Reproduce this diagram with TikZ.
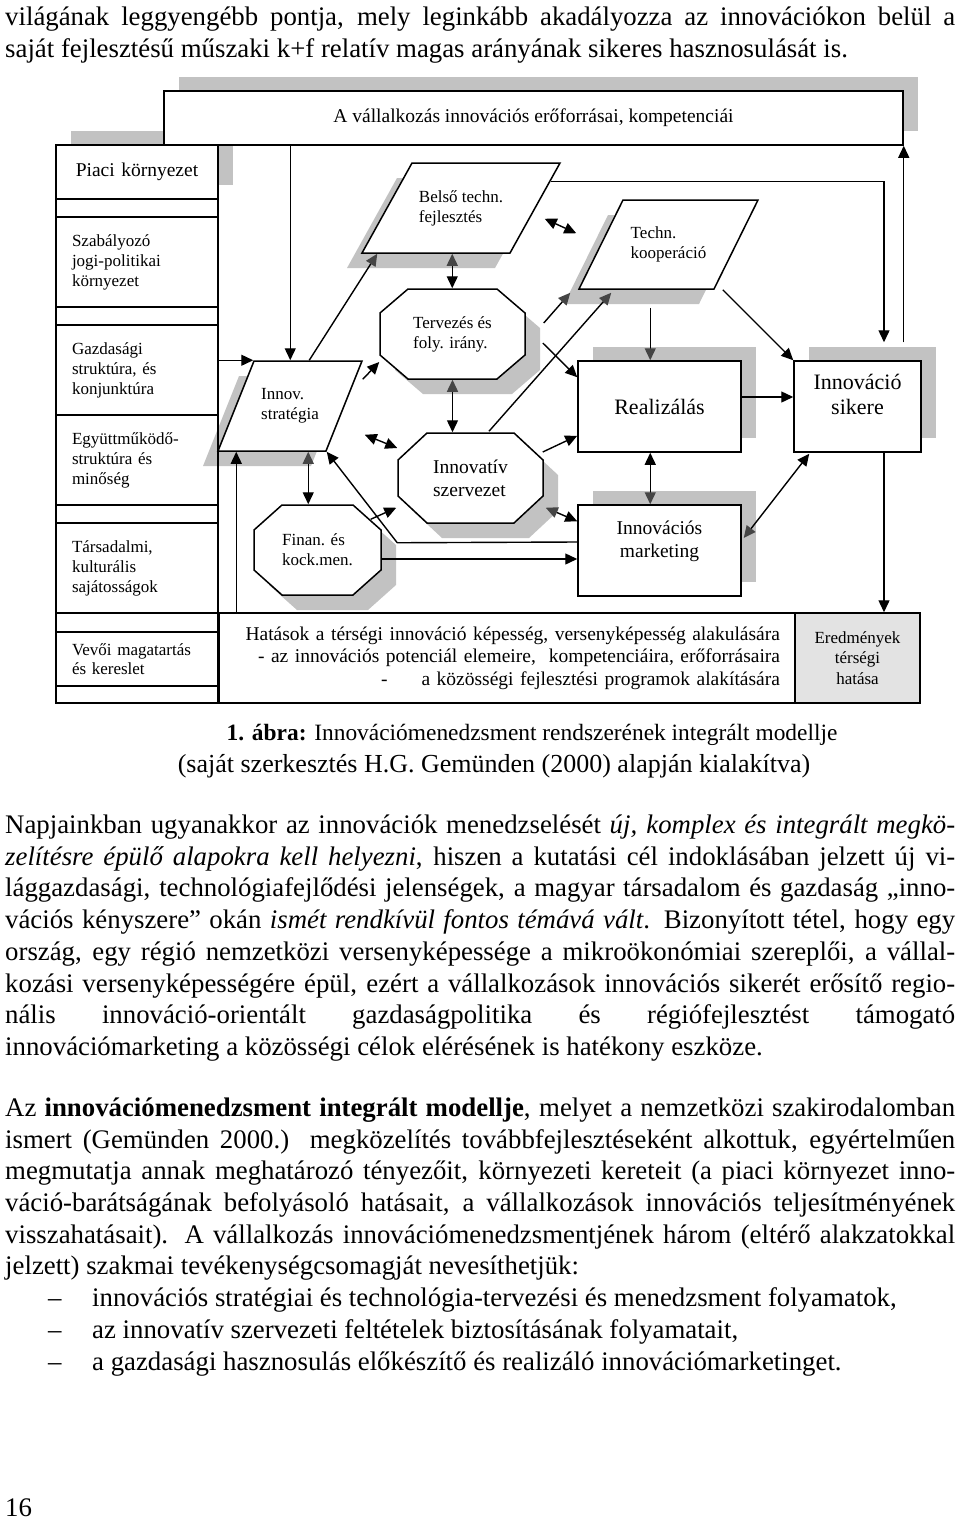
\documentclass[tikz,border=0pt]{standalone}
\usepackage{fontspec}
\setmainfont{Liberation Serif}
\usepackage{tikz}
\usetikzlibrary{arrows.meta, shadows, calc}

\definecolor{shade}{gray}{0.76}   % colour of the drop shadows
\definecolor{tipgray}{gray}{0.27} % arrow heads lying on a shadow
\definecolor{resgray}{gray}{0.89} % last box of the bottom row

\newcommand{\labfont}{\fontsize{17}{20}\selectfont}
\newcommand{\midfont}{\fontsize{19.5}{23}\selectfont}
\newcommand{\bigfont}{\fontsize{22}{25}\selectfont}
\newcommand{\bodyfont}{\fontsize{26.8}{32}\selectfont}
\newcommand{\capfont}{\fontsize{23.4}{32}\selectfont}

\makeatletter
\pgfkeys{/pgf/lean/.initial=40pt, /pgf/cutx/.initial=28pt, /pgf/cuty/.initial=24pt}
% parallelogram: the top edge is pushed right by /pgf/lean
\pgfdeclareshape{lean box}{
	\inheritsavedanchors[from=rectangle]
	\inheritanchorborder[from=rectangle]
	\inheritanchor[from=rectangle]{center}
	\inheritanchor[from=rectangle]{text}
	\inheritanchor[from=rectangle]{base}
	\inheritanchor[from=rectangle]{mid}
	\inheritanchor[from=rectangle]{north}
	\inheritanchor[from=rectangle]{south}
	\inheritanchor[from=rectangle]{east}
	\inheritanchor[from=rectangle]{west}
	\inheritanchor[from=rectangle]{north east}
	\inheritanchor[from=rectangle]{north west}
	\inheritanchor[from=rectangle]{south east}
	\inheritanchor[from=rectangle]{south west}
	\savedmacro\getlean{\pgfmathsetlength\pgf@xa{\pgfkeysvalueof{/pgf/lean}}\edef\leanval{\the\pgf@xa}\addtosavedmacro\leanval}
	\anchor{top left corner}{\getlean\northeast\pgf@ya=\pgf@y\southwest\advance\pgf@x by\leanval\relax\pgf@y=\pgf@ya}
	\anchor{top right corner}{\northeast}
	\anchor{bottom left corner}{\southwest}
	\anchor{bottom right corner}{\getlean\southwest\pgf@ya=\pgf@y\northeast\advance\pgf@x by-\leanval\relax\pgf@y=\pgf@ya}
	\backgroundpath{%
		\getlean
		\pgfmathsetlength\pgf@xc{\pgfkeysvalueof{/pgf/outer xsep}}%
		\pgfmathsetlength\pgf@yc{\pgfkeysvalueof{/pgf/outer ysep}}%
		\southwest\advance\pgf@x by\pgf@xc\advance\pgf@y by\pgf@yc
		\edef\pgf@lbx{\the\pgf@x}\edef\pgf@lby{\the\pgf@y}%
		\northeast\advance\pgf@x by-\pgf@xc\advance\pgf@y by-\pgf@yc
		\edef\pgf@lbX{\the\pgf@x}\edef\pgf@lbY{\the\pgf@y}%
		\pgfpathmoveto{\pgfpoint{\pgf@lbx}{\pgf@lby}}%
		\pgfpathlineto{\pgfpoint{\pgf@lbX-\leanval}{\pgf@lby}}%
		\pgfpathlineto{\pgfpoint{\pgf@lbX}{\pgf@lbY}}%
		\pgfpathlineto{\pgfpoint{\pgf@lbx+\leanval}{\pgf@lbY}}%
		\pgfpathclose
	}
}
% octagon: corners cut by /pgf/cutx and /pgf/cuty
\pgfdeclareshape{cut box}{
	\inheritsavedanchors[from=rectangle]
	\inheritanchorborder[from=rectangle]
	\inheritanchor[from=rectangle]{center}
	\inheritanchor[from=rectangle]{text}
	\inheritanchor[from=rectangle]{base}
	\inheritanchor[from=rectangle]{mid}
	\inheritanchor[from=rectangle]{north}
	\inheritanchor[from=rectangle]{south}
	\inheritanchor[from=rectangle]{east}
	\inheritanchor[from=rectangle]{west}
	\inheritanchor[from=rectangle]{north east}
	\inheritanchor[from=rectangle]{north west}
	\inheritanchor[from=rectangle]{south east}
	\inheritanchor[from=rectangle]{south west}
	\backgroundpath{%
		\pgfmathsetlength\pgf@xc{\pgfkeysvalueof{/pgf/outer xsep}}%
		\pgfmathsetlength\pgf@yc{\pgfkeysvalueof{/pgf/outer ysep}}%
		\southwest\advance\pgf@x by\pgf@xc\advance\pgf@y by\pgf@yc
		\edef\pgf@cbx{\the\pgf@x}\edef\pgf@cby{\the\pgf@y}%
		\northeast\advance\pgf@x by-\pgf@xc\advance\pgf@y by-\pgf@yc
		\edef\pgf@cbX{\the\pgf@x}\edef\pgf@cbY{\the\pgf@y}%
		\edef\pgf@cbu{\pgfkeysvalueof{/pgf/cutx}}\edef\pgf@cbv{\pgfkeysvalueof{/pgf/cuty}}%
		\pgfpathmoveto{\pgfpoint{\pgf@cbx+\pgf@cbu}{\pgf@cby}}%
		\pgfpathlineto{\pgfpoint{\pgf@cbX-\pgf@cbu}{\pgf@cby}}%
		\pgfpathlineto{\pgfpoint{\pgf@cbX}{\pgf@cby+\pgf@cbv}}%
		\pgfpathlineto{\pgfpoint{\pgf@cbX}{\pgf@cbY-\pgf@cbv}}%
		\pgfpathlineto{\pgfpoint{\pgf@cbX-\pgf@cbu}{\pgf@cbY}}%
		\pgfpathlineto{\pgfpoint{\pgf@cbx+\pgf@cbu}{\pgf@cbY}}%
		\pgfpathlineto{\pgfpoint{\pgf@cbx}{\pgf@cbY-\pgf@cbv}}%
		\pgfpathlineto{\pgfpoint{\pgf@cbx}{\pgf@cby+\pgf@cbv}}%
		\pgfpathclose
	}
}
\makeatother

\tikzset{
	>={Triangle[length=12pt,width=11pt]}, % filled arrow heads
	gt/.tip={Triangle[length=12pt,width=11pt,color=tipgray]}, % darker head where it sits on a shadow
	every node/.append style={inner sep=0pt},
	link/.style={line width=1.4pt}, % every connector
	rshadow/.style={drop shadow={shadow xshift=15pt, shadow yshift=14pt, fill=shade, opacity=1}}, % up and right
	pshadow/.style={drop shadow={shadow xshift=-15pt, shadow yshift=-15pt, fill=shade, opacity=1}}, % down and left
	oshadow/.style={drop shadow={shadow xshift=15pt, shadow yshift=-15pt, fill=shade, opacity=1}}, % down and right
	box/.style={draw, line width=1.5pt, fill=white, minimum width=163pt, minimum height=91pt, align=center},
	para/.style={shape=lean box, draw, line width=1.5pt, fill=white, minimum height=90pt, align=left, font=\labfont, pshadow},
	octa/.style={shape=cut box, draw, line width=1.5pt, fill=white, minimum width=145pt, minimum height=90pt, align=left, oshadow},
	cell/.style={draw, line width=1.5pt, minimum width=162pt, minimum height=90pt, text width=130pt, align=left, font=\labfont},
	txt/.style={anchor=base west, font=\bodyfont},
}

\begin{document}
\begin{tikzpicture}[x=1pt,y=-1pt]
	\useasboundingbox (0,0) rectangle (960,1521);
	% text above the figure
	\node (top1) at (5,25) [txt] {\makebox[950pt][s]{világának leggyengébb pontja, mely leginkább akadályozza az innovációkon belül a}};
	\node (top2) at (5,57) [txt] {saját fejlesztésű műszaki k+f relatív magas arányának sikeres hasznosulását is.};

	% the figure
	\node (piaci) at (137,172) [cell, fill=white, minimum height=54pt, text width=162pt, align=center, font=\midfont, rshadow] {Piaci környezet};
	\node (res) at (533.5,118) [box, minimum width=739pt, minimum height=54pt, font=\midfont, rshadow] {A vállalkozás innovációs erőforrásai, kompetenciái};

	\node (belso) at (461,208) [para, lean=50pt, minimum width=198pt] {Belső techn.\\fejlesztés};
	\node (tkoop) at (668.5,244.5) [para, lean=44pt, minimum width=179pt, minimum height=89pt] {Techn.\\kooperáció};
	\node (innovS) at (290,406) [para, lean=36pt, minimum width=144pt] {Innov.\\stratégia};

	\node (terv) at (452.5,334) [octa, cutx=28pt, cuty=24pt, font=\labfont] {Tervezés és\\foly. irány.};
	\node (innovSz) at (470.5,478) [octa, cutx=29pt, cuty=27pt, font=\midfont] {Innovatív\\szervezet};
	\node (finan) at (317.5,550) [octa, minimum width=127pt, cutx=28pt, cuty=25pt, font=\labfont] {Finan. és\\kock.men.};

	\node (real) at (659.5,406.5) [box, font=\bigfont, rshadow] {Realizálás};
	\node (imark) at (659.5,550.5) [box, font=\midfont, rshadow] {Innovációs\\marketing\\~};
	\node (siker) at (857.5,406.5) [box, minimum width=127pt, font=\bigfont, rshadow] {Innováció\\sikere\\~};

	% environment column
	\node (szab) at (137,262) [cell] {Szabályozó\\jogi-politikai\\környezet};
	\node (gazd) at (137,370) [cell] {Gazdasági\\struktúra, és\\konjunktúra};
	\node (egy) at (137,460) [cell] {Együttműködő-\\struktúra és\\minőség};
	\node (tars) at (137,568) [cell] {Társadalmi,\\kulturális\\sajátosságok};
	\node (vevo) at (137,659) [cell, minimum height=54pt, font=\fontsize{17}{19}\selectfont] {Vevői magatartás\\és kereslet};
	\node (col) at (137,424) [draw, line width=1.5pt, minimum width=162pt, minimum height=558pt] {};

	% bottom row
	\node (hatas) at (507,658) [box, minimum width=576pt, minimum height=90pt, text width=546pt, align=right, font=\fontsize{19.5}{22.5}\selectfont] {Hatások a térségi innováció képesség, versenyképesség alakulására\\- az innovációs potenciál elemeire,\ \ kompetenciáira, erőforrásaira\\-\hspace{34pt}a közösségi fejlesztési programok alakítására};
	\node (ered) at (857.5,658) [box, minimum width=125pt, minimum height=90pt, fill=resgray, font=\fontsize{17}{20.5}\selectfont] {Eredmények\\térségi\\hatása};

	% connectors
	\coordinate (s2) at ($(innovS.top left corner)+(37,0)$);
	\draw[link,->] (gazd.east |- innovS.top left corner) -- (innovS.top left corner);
	\draw[link,->] (res.south -| s2) -- (s2);
	\draw[link,-gt] ($(innovS.top left corner)+(56,0)$) -- ($(belso.bottom left corner)+(16,0)$);
	\draw[link,->] ($(innovS.top right corner)+(0,19)$) -- ($(terv.west)+(0,28)$);
	\draw[link,gt->] ($(innovS.bottom left corner)+(91,0)$) coordinate (s5) -- (s5 |- finan.north);
	\draw[link,->] ($(imark.west)+(0,-8.5)$) -- ($(innovSz.south west)+(0,19)$) -- (innovS.bottom right corner);
	\draw[link,->] ($(finan.north east)+(-11,15)$) -- ($(innovSz.south west)+(-1,-16)$);
	\draw[link,->] ($(finan.east)+(0,9)$) -- ($(imark.west)+(0,8.5)$);
	\draw[link,<->] ($(innovS.bottom right corner)+(38,-17)$) -- ($(innovSz.west)+(0,-30)$);
	\draw[link,gt->] (terv.south) -- (innovSz.north -| terv.south);
	\draw[link,gt->] ($(belso.bottom left corner)+(91,0)$) coordinate (s11) -- (s11 |- terv.north);
	\draw[link,<->] ($(belso.bottom right corner)+(34,-35)$) -- ($(tkoop.top left corner)+(-46,34)$);
	\draw[link,-gt] ($(terv.east)+(18,-11)$) -- ($(tkoop.bottom left corner)+(-8,3)$);
	\draw[link,-gt] ($(innovSz.north)+(18.5,-1)$) -- ($(tkoop.bottom left corner)+(33,3)$);
	\draw[link,->] ($(terv.east)+(17,9)$) -- ($(real.north west)+(0,17)$);
	\draw[link,->] ($(innovSz.east)+(-1,-26)$) -- ($(real.south west)+(0,-17)$);
	\draw[link,gt->] ($(innovSz.south east)+(2,-16)$) -- ($(imark.north west)+(0,17)$);
	\draw[link,-gt] ($(tkoop.bottom left corner)+(72,18)$) coordinate (s18) -- (s18 |- real.north);
	\draw[link,->] ($(tkoop.bottom right corner)+(8,0)$) -- (siker.north west);
	\draw[link,->] ($(real.east)+(0,-9.5)$) -- ($(siker.west)+(0,-9.5)$);
	\draw[link,<-gt] (real.south -| s18) -- (imark.north -| s18);
	\draw[link,<-gt] ($(siker.south west)+(16,1)$) -- ($(imark.east)+(2,-12.5)$);
	\draw[link,->] ($(siker.north east)+(-18,-18)$) coordinate (s23) -- (s23 |- res.south);
	\draw[link,->] ($(belso.top right corner)+(-10,19)$) -| ($(siker.north)+(26.5,-18)$);
	\draw[link,->] ($(siker.south)+(26.5,0)$) coordinate (s25) -- (s25 |- ered.north);
	\draw[link,<-] ($(innovS.bottom left corner)+(19,0)$) coordinate (s26) -- (s26 |- hatas.north);

	% caption
	\node (cap1) at (532,740) [anchor=base, font=\capfont] {\textbf{1. ábra:} Innovációmenedzsment rendszerének integrált modellje};
	\node (cap2) at (494,772) [anchor=base, font=\fontsize{26}{32}\selectfont] {(saját szerkesztés H.G. Gemünden (2000) alapján kialakítva)};

	% text below the figure
	\node (p1a) at (5,833) [txt] {\makebox[950pt][s]{Napjainkban ugyanakkor az innovációk menedzselését \textit{új, komplex és integrált megkö-}}};
	\node (p1b) at (5,865) [txt] {\makebox[950pt][s]{\textit{zelítésre épülő alapokra kell helyezni}, hiszen a kutatási cél indoklásában jelzett új vi-}};
	\node (p1c) at (5,896.5) [txt] {\makebox[950pt][s]{lággazdasági, technológiafejlődési jelenségek, a magyar társadalom és gazdaság „inno-}};
	\node (p1d) at (5,928) [txt] {\makebox[950pt][s]{vációs kényszere” okán \textit{ismét rendkívül fontos témává vált}. Bizonyított tétel, hogy egy}};
	\node (p1e) at (5,960) [txt] {\makebox[950pt][s]{ország, egy régió nemzetközi versenyképessége a mikroökonómiai szereplői, a vállal-}};
	\node (p1f) at (5,992) [txt] {\makebox[950pt][s]{kozási versenyképességére épül, ezért a vállalkozások innovációs sikerét erősítő regio-}};
	\node (p1g) at (5,1023.5) [txt] {\makebox[950pt][s]{nális innováció-orientált gazdaságpolitika és régiófejlesztést támogató}};
	\node (p1h) at (5,1055) [txt] {innovációmarketing a közösségi célok elérésének is hatékony eszköze.};

	\node (p2a) at (5,1116) [txt] {\makebox[950pt][s]{Az \textbf{innovációmenedzsment integrált modellje}, melyet a nemzetközi szakirodalomban}};
	\node (p2b) at (5,1148) [txt] {\makebox[950pt][s]{ismert (Gemünden 2000.) megközelítés továbbfejlesztéseként alkottuk, egyértelműen}};
	\node (p2c) at (5,1179.5) [txt] {\makebox[950pt][s]{megmutatja annak meghatározó tényezőit, környezeti kereteit (a piaci környezet inno-}};
	\node (p2d) at (5,1211) [txt] {\makebox[950pt][s]{váció-barátságának befolyásoló hatásait, a vállalkozások innovációs teljesítményének}};
	\node (p2e) at (5,1243) [txt] {\makebox[950pt][s]{visszahatásait). A vállalkozás innovációmenedzsmentjének három (eltérő alakzatokkal}};
	\node (p2f) at (5,1274.5) [txt] {jelzett) szakmai tevékenységcsomagját nevesíthetjük:};
	\node (d1) at (48,1306.5) [txt] {–};
	\node (b1) at (92,1306.5) [txt] {innovációs stratégiai és technológia-tervezési és menedzsment folyamatok,};
	\node (d2) at (48,1338) [txt] {–};
	\node (b2) at (92,1338) [txt] {az innovatív szervezeti feltételek biztosításának folyamatait,};
	\node (d3) at (48,1370) [txt] {–};
	\node (b3) at (92,1370) [txt] {a gazdasági hasznosulás előkészítő és realizáló innovációmarketinget.};

	\node (pnum) at (5,1516) [txt] {16};
\end{tikzpicture}
\end{document}
